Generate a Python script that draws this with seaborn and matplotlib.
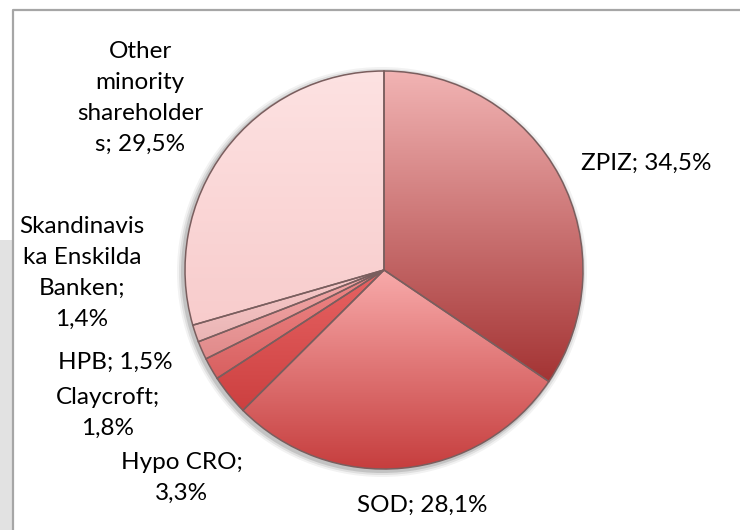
import matplotlib
matplotlib.use("Agg")
import matplotlib.pyplot as plt
import numpy as np
import seaborn as sns
from matplotlib.colors import LinearSegmentedColormap
from matplotlib.patches import Circle, Rectangle

# data
owners = ["ZPIZ", "SOD", "Hypo CRO", "Claycroft", "HPB",
          "Skandinaviska Enskilda Banken", "Other minority shareholders"]
shares = [34.5, 28.1, 3.3, 1.8, 1.5, 1.4, 29.5]
label_texts = ["ZPIZ; 34,5%", "SOD; 28,1%", "Hypo CRO;\n3,3%", "Claycroft;\n1,8%",
               "HPB; 1,5%", "Skandinavis\nka Enskilda\nBanken;\n1,4%",
               "Other\nminority\nshareholder\ns; 29,5%"]

# styling: top / bottom colour of the vertical gradient of each slice
top_colors = ["#f2b4b4", "#f8aaaa", "#e86464", "#f08a8a", "#f4aaaa", "#f8cccc", "#fde2e2"]
bottom_colors = ["#a43434", "#c63e3e", "#cc4040", "#d86060", "#e08a8a", "#eab4b4", "#f8cccc"]
# label anchors in pixel coords (x, y from top)
label_pos = [(646, 163), (422, 505), (182, 478), (108, 413),
             (115, 362), (82, 273), (140, 98)]

W, H = 740, 530
CX, CY, R = 384, 270, 199

sns.set_theme(style="white")
plt.rcParams["font.family"] = ["Lato", "DejaVu Sans"]

fig = plt.figure(figsize=(W / 100, H / 100), dpi=100)
ax = fig.add_axes([0, 0, 1, 1])

# slide background bits and frame
ax.add_patch(Rectangle((0, 0), 12, H - 240, color="#e2e2e2", lw=0, zorder=0))
ax.plot([12.5, 12.5, W], [0, H - 10, H - 10], color="#a6a6a6", lw=1.6, zorder=1)

# soft shadow under the pie
for k, a in zip([6, 4, 2], [0.05, 0.08, 0.12]):
    ax.add_patch(Circle((CX - 2, H - CY - 2), R + k, color="black", alpha=a, lw=0, zorder=1))

wedges, _ = ax.pie(shares, center=(CX, H - CY), radius=R, startangle=90,
                   counterclock=False, frame=True,
                   wedgeprops=dict(edgecolor="#7a5e5e", linewidth=1.1))

for w, c0, c1 in zip(wedges, top_colors, bottom_colors):
    w.set_zorder(3)
    w.set_facecolor("none")
    ext = w.get_path().get_extents()
    cmap = LinearSegmentedColormap.from_list("g", [c0, c1])
    grad = np.linspace(0, 1, 256).reshape(-1, 1)
    im = ax.imshow(grad, cmap=cmap, aspect="auto", origin="upper",
                   extent=(ext.x0, ext.x1, ext.y0, ext.y1), zorder=2,
                   interpolation="bilinear")
    im.set_clip_path(w)

ax.set_xlim(0, W)
ax.set_ylim(0, H)
ax.set_aspect("equal")
ax.axis("off")

for txt, (x, y) in zip(label_texts, label_pos):
    ax.text(x, H - y, txt, ha="center", va="center", fontsize=17.5,
            color="black", linespacing=1.58, zorder=5)

fig.savefig("out.png", dpi=100)
